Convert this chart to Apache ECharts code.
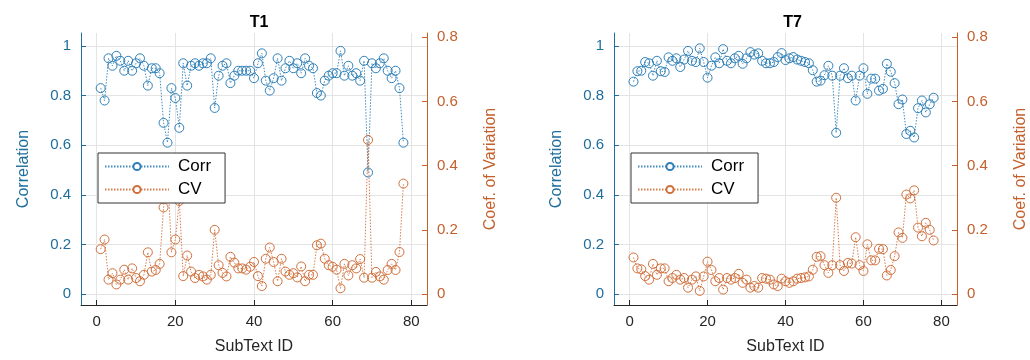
<!DOCTYPE html>
<html>
<head>
<meta charset="utf-8">
<script src="https://cdn.jsdelivr.net/npm/echarts@6/dist/echarts.min.js"></script>
<style>
  html, body { margin: 0; padding: 0; background: #fff; }
  #chart { width: 1030px; height: 360px; }
</style>
</head>
<body>
<div id="chart"></div>
<script>
// SubText IDs shared by both panels
const subTextIds = Array.from({ length: 78 }, (_, i) => i + 1);

// Panel T1
const t1Corr = [
  0.83, 0.78, 0.95, 0.92, 0.96, 0.94, 0.90, 0.94, 0.90, 0.93,
  0.95, 0.92, 0.84, 0.91, 0.91, 0.89, 0.69, 0.61, 0.83, 0.79,
  0.67, 0.93, 0.84, 0.92, 0.93, 0.92, 0.93, 0.93, 0.95, 0.75,
  0.88, 0.92, 0.93, 0.85, 0.88, 0.90, 0.90, 0.90, 0.90, 0.87,
  0.93, 0.97, 0.86, 0.82, 0.87, 0.95, 0.86, 0.91, 0.94, 0.91,
  0.93, 0.89, 0.95, 0.92, 0.91, 0.81, 0.80, 0.86, 0.88, 0.89,
  0.89, 0.98, 0.88, 0.92, 0.88, 0.89, 0.86, 0.94, 0.49, 0.93,
  0.91, 0.93, 0.95, 0.90, 0.87, 0.90, 0.83, 0.61
];
const t1CV = [
  0.140, 0.170, 0.045, 0.065, 0.030, 0.045, 0.076, 0.045, 0.080, 0.050,
  0.040, 0.060, 0.130, 0.070, 0.075, 0.094, 0.270, 0.400, 0.130, 0.170,
  0.290, 0.056, 0.120, 0.070, 0.050, 0.060, 0.055, 0.045, 0.060, 0.200,
  0.090, 0.066, 0.055, 0.116, 0.098, 0.080, 0.080, 0.076, 0.085, 0.100,
  0.056, 0.025, 0.110, 0.145, 0.100, 0.040, 0.110, 0.070, 0.060, 0.065,
  0.052, 0.086, 0.040, 0.060, 0.060, 0.152, 0.157, 0.110, 0.090, 0.085,
  0.076, 0.018, 0.094, 0.058, 0.090, 0.080, 0.109, 0.051, 0.480, 0.051,
  0.069, 0.055, 0.045, 0.075, 0.094, 0.075, 0.131, 0.344
];

// Panel T7
const t7Corr = [
  0.856, 0.898, 0.900, 0.935, 0.930, 0.880, 0.940, 0.898, 0.895, 0.954,
  0.940, 0.950, 0.915, 0.945, 0.980, 0.940, 0.935, 0.990, 0.935, 0.872,
  0.920, 0.954, 0.930, 0.987, 0.940, 0.930, 0.950, 0.960, 0.928, 0.950,
  0.975, 0.965, 0.970, 0.940, 0.930, 0.930, 0.935, 0.955, 0.971, 0.943,
  0.950, 0.955, 0.945, 0.940, 0.935, 0.930, 0.902, 0.856, 0.860, 0.882,
  0.920, 0.880, 0.650, 0.880, 0.910, 0.870, 0.880, 0.780, 0.880, 0.910,
  0.807, 0.868, 0.868, 0.820, 0.827, 0.928, 0.896, 0.850, 0.765, 0.784,
  0.645, 0.658, 0.631, 0.749, 0.780, 0.732, 0.765, 0.791
];
const t7CV = [
  0.114, 0.080, 0.077, 0.056, 0.045, 0.094, 0.060, 0.080, 0.080, 0.040,
  0.050, 0.060, 0.045, 0.050, 0.020, 0.045, 0.055, 0.010, 0.055, 0.101,
  0.075, 0.040, 0.050, 0.014, 0.050, 0.045, 0.050, 0.063, 0.035, 0.045,
  0.020, 0.025, 0.020, 0.050, 0.048, 0.045, 0.030, 0.025, 0.048, 0.040,
  0.035, 0.040, 0.048, 0.050, 0.052, 0.055, 0.076, 0.116, 0.118, 0.090,
  0.066, 0.090, 0.300, 0.090, 0.072, 0.097, 0.095, 0.177, 0.090, 0.072,
  0.155, 0.105, 0.105, 0.141, 0.140, 0.058, 0.075, 0.118, 0.192, 0.175,
  0.310, 0.298, 0.323, 0.207, 0.180, 0.222, 0.200, 0.167
];

// Tick labels
const xTicks = [0, 20, 40, 60, 80];
const corrTicks = [0, 0.2, 0.4, 0.6, 0.8, 1];
const cvTicks = [0, 0.2, 0.4, 0.6, 0.8];

const panelTitles = ['T1', 'T7'];
const corrSeries = [t1Corr, t7Corr];
const cvSeries = [t1CV, t7CV];

const FONT = '"Liberation Sans", Arial, Helvetica, sans-serif';
const BLUE_AX = '#1f6e9c';
const BLUE = '#2f80b8';
const ORANGE_AX = '#c4602c';
const ORANGE = '#d0703c';
const GRID_LINE = '#e4e4e4';

const grids = [
  { left: 81, top: 33, width: 346, height: 280 },
  { left: 614, top: 33, width: 347, height: 280 }
];

const fmt = v => String(+v.toFixed(2));

const xAxes = [], yAxes = [], series = [], titles = [], legends = [];

grids.forEach((g, p) => {
  xAxes.push({
    type: 'value', gridIndex: p, min: -4, max: 84,
    name: 'SubText ID', nameLocation: 'middle', nameGap: 34,
    nameTextStyle: { fontFamily: FONT, fontSize: 16, color: '#262626' },
    axisLine: { show: true, onZero: false, lineStyle: { color: '#262626', width: 1 } },
    axisTick: { show: true, inside: true, length: 5, customValues: xTicks, lineStyle: { color: '#262626' } },
    axisLabel: { customValues: xTicks, formatter: fmt, fontFamily: FONT, fontSize: 15, color: '#262626', margin: 9 },
    splitLine: { show: true, lineStyle: { color: GRID_LINE, width: 1 } }
  });
  // left axis: correlation
  yAxes.push({
    type: 'value', gridIndex: p, position: 'left', min: -0.044, max: 1.052,
    name: 'Correlation', nameLocation: 'middle', nameGap: 49, nameRotate: 90,
    nameTextStyle: { fontFamily: FONT, fontSize: 16, color: BLUE_AX },
    axisLine: { show: true, onZero: false, lineStyle: { color: BLUE_AX, width: 1 } },
    axisTick: { show: true, inside: true, length: 5, customValues: corrTicks, lineStyle: { color: BLUE_AX } },
    axisLabel: { customValues: corrTicks, formatter: fmt, fontFamily: FONT, fontSize: 15, color: BLUE_AX, margin: 10 },
    splitLine: { show: true, lineStyle: { color: GRID_LINE, width: 1 } }
  });
  // right axis: coefficient of variation
  yAxes.push({
    type: 'value', gridIndex: p, position: 'right', min: -0.034, max: 0.813,
    name: 'Coef. of Variation', nameLocation: 'middle', nameGap: 56, nameRotate: 90,
    nameTextStyle: { fontFamily: FONT, fontSize: 16, color: ORANGE_AX },
    axisLine: { show: true, onZero: false, lineStyle: { color: ORANGE_AX, width: 1 } },
    axisTick: { show: true, inside: true, length: 5, customValues: cvTicks, lineStyle: { color: ORANGE_AX } },
    axisLabel: { customValues: cvTicks, formatter: fmt, fontFamily: FONT, fontSize: 15, color: ORANGE_AX, margin: 10 },
    splitLine: { show: false }
  });

  const mk = (name, vals, yIdx, color) => ({
    name, type: 'line', xAxisIndex: p, yAxisIndex: yIdx,
    data: subTextIds.map((id, i) => [id, vals[i]]),
    symbol: 'circle', symbolSize: 9,
    itemStyle: { color: 'rgba(255,255,255,0)', borderColor: color, borderWidth: 1 },
    lineStyle: { color: color, width: 1, type: [1.5, 1.5], opacity: 0.9 },
    emphasis: { disabled: true },
    animation: false
  });
  series.push(mk('Corr', corrSeries[p], p * 2, BLUE));
  series.push(mk('CV', cvSeries[p], p * 2 + 1, ORANGE));

  titles.push({
    text: panelTitles[p], left: g.left + g.width / 2, top: 10, textAlign: 'center',
    textStyle: { fontFamily: FONT, fontSize: 16, fontWeight: 'bold', color: '#000' }
  });

  legends.push({
    data: ['Corr', 'CV'], orient: 'vertical',
    left: g.left + 17, top: 153,
    itemWidth: 64, itemHeight: 9, itemGap: 6,
    padding: [5, 14, 5, 6],
    backgroundColor: '#fff', borderColor: '#333', borderWidth: 1,
    selectedMode: false,
    itemStyle: { color: '#fff' },
    textStyle: { fontFamily: FONT, fontSize: 17, color: '#000', padding: [0, 0, 0, 4] }
  });
});

const chart = echarts.init(document.getElementById('chart'), null, { renderer: 'canvas' });
chart.setOption({
  backgroundColor: '#fff',
  animation: false,
  title: titles,
  legend: legends,
  grid: grids,
  xAxis: xAxes,
  yAxis: yAxes,
  series: series
});
</script>
</body>
</html>
